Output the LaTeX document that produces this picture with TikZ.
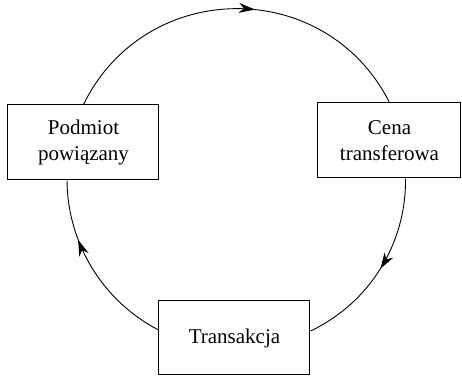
\documentclass[tikz,border=0pt]{standalone}
\usepackage{fontspec}
\setmainfont{Liberation Serif}
\usetikzlibrary{arrows.meta,decorations.markings}
\tikzset{
  ogniwo/.style={draw, line width=0.5pt, fill=white, align=center,
    inner sep=0pt, font=\fontsize{10.5}{13}\selectfont},
  obieg/.style={line width=0.45pt, postaction={decorate},
    decoration={markings, mark=at position #1 with {\arrow{Stealth[length=8pt,width=5pt,inset=2.5pt]}}}},
}
\begin{document}
\begin{tikzpicture}[x=0.5pt,y=0.5pt]
\useasboundingbox (0,0) rectangle (462,376);
\node[ogniwo, minimum width=75.5pt, minimum height=37.5pt] (pod) at (83.5,233.5) {Podmiot\\powiązany};
\node[ogniwo, minimum width=71.5pt, minimum height=37.5pt] (cena) at (389.5,235.5) {Cena\\transferowa};
\node[ogniwo, minimum width=75.5pt, minimum height=37pt] (trans) at (234.5,38) {Transakcja};
% obieg
\draw[obieg=0.55] (pod.north) to[bend left=63.5, looseness=1.18] (cena.north);
\draw[obieg=0.5] ([xshift=8pt]cena.south) to[bend left=32.7, looseness=0.93] ([yshift=3.5pt]trans.east);
\draw[obieg=0.67] ([yshift=4pt]trans.west) to[bend left=31, looseness=0.92] ([xshift=-8.25pt]pod.south);
\end{tikzpicture}
\end{document}
